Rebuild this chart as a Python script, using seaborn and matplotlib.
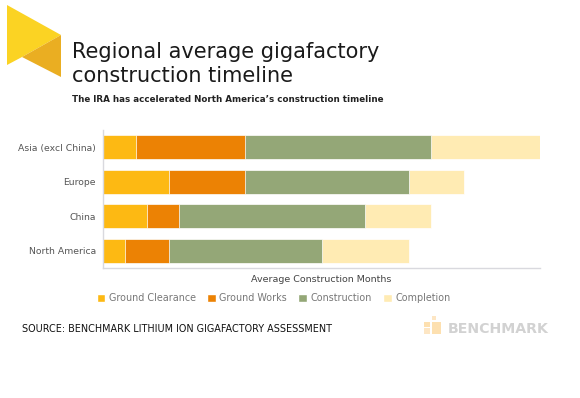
import numpy as np
import pandas as pd
import matplotlib
matplotlib.use("Agg")
import matplotlib.pyplot as plt
from matplotlib.patches import Polygon, Patch, Rectangle
import seaborn as sns

# data (months)
regions = ["Asia (excl China)", "Europe", "China", "North America"]
stages = ["Ground Clearance", "Ground Works", "Construction", "Completion"]
ground_clearance = [3, 6, 4, 2]
ground_works = [10, 7, 3, 4]
construction = [17, 15, 17, 14]
completion = [10, 5, 6, 8]

colors = ["#FDB913", "#EC8204", "#94A777", "#FFEBB3"]

sns.set_theme(style="white")
plt.rcParams["font.family"] = ["DejaVu Sans"]

df = pd.DataFrame({
    "region": regions,
    "Ground Clearance": ground_clearance,
    "Ground Works": ground_works,
    "Construction": construction,
    "Completion": completion,
})
# cumulative sums for stacking
cum = df[stages].cumsum(axis=1)
cum["region"] = df["region"]

fig = plt.figure(figsize=(5.8, 3.98), dpi=100)
ax = fig.add_axes([103 / 580, 1 - 268 / 398, 437 / 580, 138 / 398])

# draw longest first so shorter stacks sit on top
for stage, col in reversed(list(zip(stages, colors))):
    sns.barplot(data=cum, x=stage, y="region", order=regions, color=col,
                orient="h", width=0.71, edgecolor="white", linewidth=0.5,
                saturation=1, ax=ax)

ax.set_xlim(0, 40)
ax.set_ylim(3.5, -0.5)
ax.set_xticks([])
ax.set_ylabel("")
ax.set_xlabel("Average Construction Months", fontsize=6.8, color="#444444", labelpad=5)
ax.tick_params(axis="y", labelsize=6.7, colors="#555555", length=0, pad=5)
for s in ["top", "right"]:
    ax.spines[s].set_visible(False)
for s in ["left", "bottom"]:
    ax.spines[s].set_color("#d9d9de")
    ax.spines[s].set_linewidth(1)

# legend
handles = [Patch(facecolor=c, label=s) for s, c in zip(stages, colors)]
fig.legend(handles=handles, loc="center left", bbox_to_anchor=(88 / 580, 1 - 298 / 398),
           ncol=4, frameon=False, fontsize=6.9, handlelength=0.9, handleheight=0.9,
           handletextpad=0.35, columnspacing=1.2, labelcolor="#777777")

# logo
fig.patches.append(Polygon([[7 / 580, 1 - 5 / 398], [61 / 580, 1 - 35 / 398],
                            [22 / 580, 1 - 57 / 398], [7 / 580, 1 - 65 / 398]],
                           closed=True, transform=fig.transFigure, facecolor="#FBD323",
                           edgecolor="none"))
fig.patches.append(Polygon([[61 / 580, 1 - 35 / 398], [61 / 580, 1 - 77 / 398],
                            [22 / 580, 1 - 57 / 398]],
                           closed=True, transform=fig.transFigure, facecolor="#EAAE22",
                           edgecolor="none"))

# titles
fig.text(72 / 580, 1 - 58 / 398, "Regional average gigafactory", fontsize=15,
         color="#1a1a1a", va="baseline")
fig.text(72 / 580, 1 - 82 / 398, "construction timeline", fontsize=15,
         color="#1a1a1a", va="baseline")
fig.text(72 / 580, 1 - 102 / 398,
         "The IRA has accelerated North America\u2019s construction timeline",
         fontsize=6.3, color="#222222", fontweight="semibold", va="baseline")

# source + brand
fig.text(22 / 580, 1 - 332 / 398, "SOURCE: BENCHMARK LITHIUM ION GIGAFACTORY ASSESSMENT",
         fontsize=6.9, color="#111111", va="baseline")
fig.text(448 / 580, 1 - 333 / 398, "BENCHMARK", fontsize=10.2, fontweight="bold",
         color="#d2d2d2", va="baseline")
# faded brand icon
for (x0, y0, w, h, c) in [(424, 322, 6, 5, "#fde0b0"), (432, 316, 4, 4, "#fde6c4"),
                          (432, 322, 9, 12, "#fde0b0"), (424, 328, 6, 6, "#fde6c4")]:
    fig.patches.append(Rectangle((x0 / 580, 1 - (y0 + h) / 398), w / 580, h / 398,
                                 transform=fig.transFigure, facecolor=c, edgecolor="none"))

fig.savefig("out.png", dpi=100)
